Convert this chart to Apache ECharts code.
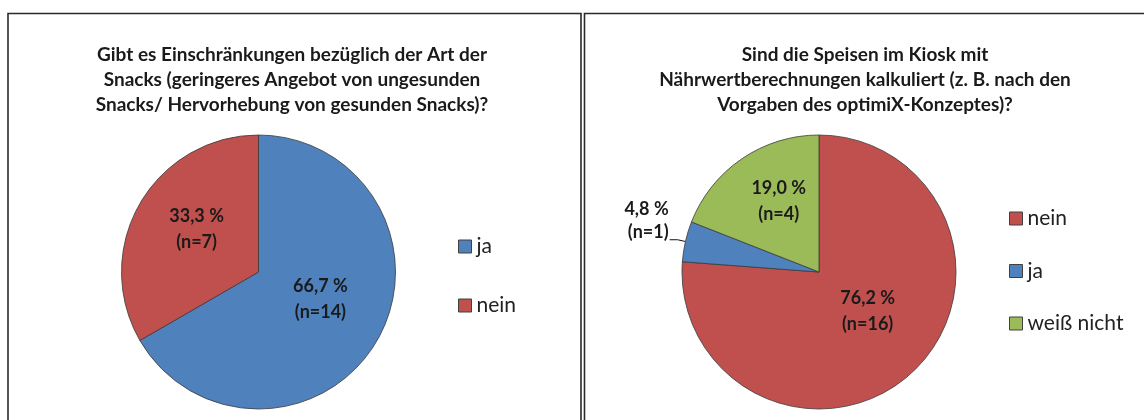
<!DOCTYPE html>
<html>
<head>
<meta charset="utf-8">
<script src="https://cdn.jsdelivr.net/npm/echarts@6/dist/echarts.min.js"></script>
<style>
  html, body { margin: 0; padding: 0; background: #ffffff; }
  #chart { width: 1144px; height: 420px; }
</style>
</head>
<body>
<div id="chart"></div>
<script>
// ---- data ----
const leftTitle = 'Gibt es Einschränkungen bezüglich der Art der\nSnacks (geringeres Angebot von ungesunden\nSnacks/ Hervorhebung von gesunden Snacks)?';
const leftCategories = ['ja', 'nein'];
const leftCounts = [14, 7];
const leftPercents = ['66,7', '33,3'];

const rightTitle = 'Sind die Speisen im Kiosk mit\nNährwertberechnungen kalkuliert (z. B. nach den\nVorgaben des optimiX-Konzeptes)?';
const rightCategories = ['nein', 'ja', 'weiß nicht'];
const rightCounts = [16, 1, 4];
const rightPercents = ['76,2', '4,8', '19,0'];

// ---- styles ----
const colors = { 'ja': '#4F81BD', 'nein': '#C0504D', 'weiß nicht': '#9BBB59' };
const FONT = 'Lato';
const leftLabelNudge = [-9, -7];        // vertical nudges of inside labels (px)
const rightLabelNudge = [-13, 0, -12];

function buildData(cats, counts, pcts, nudges, outsideIdx) {
  return cats.map((c, i) => {
    const item = {
      name: c,
      value: counts[i],
      itemStyle: { color: colors[c] },
      label: {
        formatter: pcts[i] + ' %\n(n=' + counts[i] + ')',
        offset: [0, nudges[i]]
      }
    };
    if (i === outsideIdx) {
      item.label = {
        position: 'outside',
        distanceToLabelLine: 1,
        formatter: '{a|' + pcts[i] + ' %}\n{a|(n=' + counts[i] + ')}\n{b| }',
        rich: {
          a: { fontFamily: FONT, fontWeight: 'bold', fontSize: 18, lineHeight: 23, color: '#1a1a1a', align: 'right' },
          b: { fontSize: 10, lineHeight: 38 }
        }
      };
      item.labelLine = { show: true, length: 8, length2: 8, lineStyle: { color: '#111', width: 1 } };
    }
    return item;
  });
}

const pieBase = {
  type: 'pie',
  radius: 137,
  startAngle: 90,
  clockwise: true,
  avoidLabelOverlap: false,
  silent: true,
  animation: false,
  itemStyle: { borderColor: '#3a3a3a', borderWidth: 0.8 },
  label: {
    show: true,
    position: 'inside',
    color: '#1a1a1a',
    fontFamily: FONT,
    fontWeight: 'bold',
    fontSize: 18,
    lineHeight: 26,
    align: 'center'
  },
  labelLine: { show: false },
  emphasis: { disabled: true }
};

const titleText = {
  fontFamily: FONT,
  fontWeight: 'bold',
  fontSize: 19,
  lineHeight: 25,
  color: '#1a1a1a'
};

const legendBase = {
  orient: 'vertical',
  icon: 'rect',
  padding: 0,
  itemWidth: 13,
  itemHeight: 13,
  selectedMode: false,
  itemStyle: { borderColor: '#404040', borderWidth: 1 },
  textStyle: { fontFamily: FONT, fontSize: 21, color: '#222' }
};

const chart = echarts.init(document.getElementById('chart'), null, { renderer: 'canvas' });
chart.setOption({
  backgroundColor: '#ffffff',
  animation: false,
  title: [
    { text: leftTitle, left: 292, top: 42, textAlign: 'center', padding: 0, textStyle: titleText },
    { text: rightTitle, left: 865, top: 42, textAlign: 'center', padding: 0, textStyle: titleText }
  ],
  legend: [
    Object.assign({}, legendBase, { data: leftCategories, left: 458, top: 236, itemGap: 38 }),
    Object.assign({}, legendBase, { data: rightCategories, left: 1009, top: 208, itemGap: 31.5 })
  ],
  graphic: [
    { type: 'polyline', shape: { points: [[8, 430], [8, 13.5], [581, 13.5], [581, 430]] },
      style: { stroke: '#2a2a2a', lineWidth: 1.6, fill: null }, silent: true },
    { type: 'polyline', shape: { points: [[584.5, 430], [584.5, 13.5], [1150, 13.5]] },
      style: { stroke: '#2a2a2a', lineWidth: 1.6, fill: null }, silent: true }
  ],
  series: [
    Object.assign({}, pieBase, {
      name: 'left',
      center: [258.5, 272],
      data: buildData(leftCategories, leftCounts, leftPercents, leftLabelNudge, -1)
    }),
    Object.assign({}, pieBase, {
      name: 'right',
      center: [819, 272],
      data: buildData(rightCategories, rightCounts, rightPercents, rightLabelNudge, 1)
    })
  ]
});
</script>
</body>
</html>
